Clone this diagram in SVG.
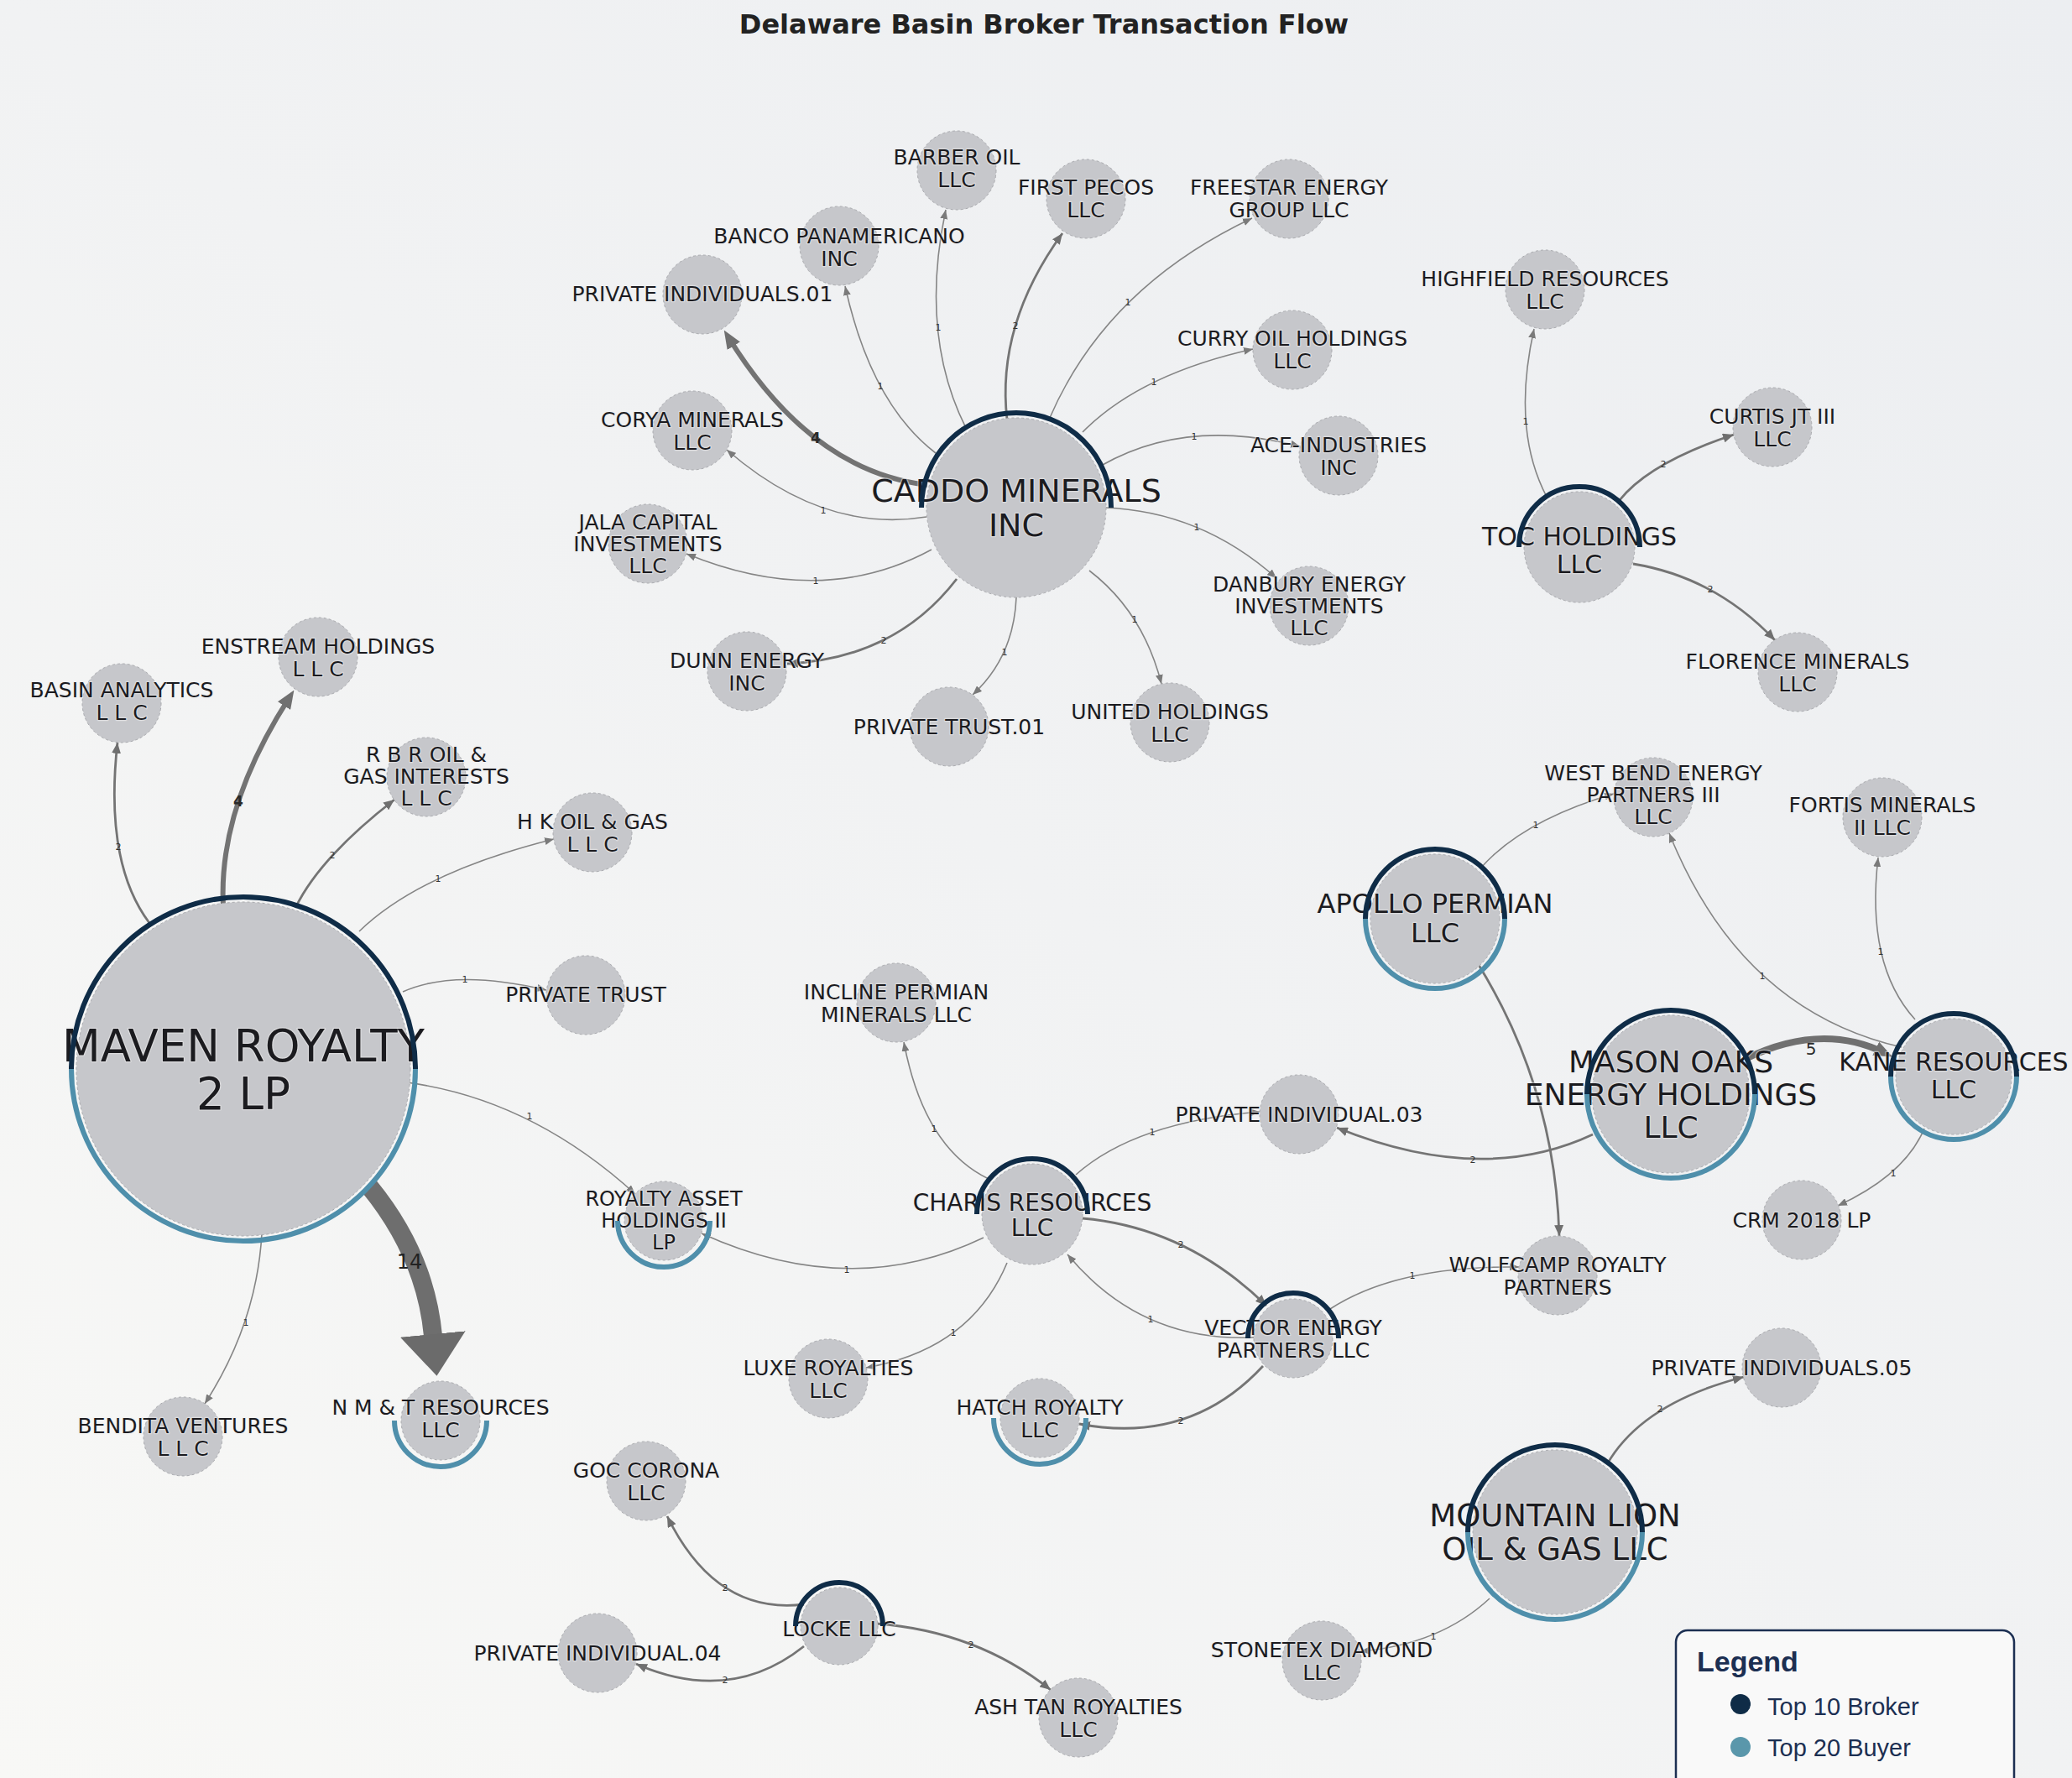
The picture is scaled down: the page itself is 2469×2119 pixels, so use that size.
<svg xmlns="http://www.w3.org/2000/svg" width="2469" height="2119" viewBox="0 0 2469 2119">
<defs>
<linearGradient id="bg" x1="1" y1="0" x2="0" y2="1">
<stop offset="0" stop-color="#eceef1"/>
<stop offset="0.5" stop-color="#f1f2f3"/>
<stop offset="1" stop-color="#f8f8f6"/>
</linearGradient>
<marker id="arrS" markerUnits="userSpaceOnUse" markerWidth="12" markerHeight="9" refX="11" refY="4.5" orient="auto"><path d="M0,0 L11,4.5 L0,9 z" fill="#7a7a7a"/></marker>
<marker id="arrS2" markerUnits="userSpaceOnUse" markerWidth="14" markerHeight="11" refX="13" refY="5.5" orient="auto"><path d="M0,0 L13,5.5 L0,11 z" fill="#6f6f6f"/></marker>
<marker id="arrM" markerUnits="userSpaceOnUse" markerWidth="22" markerHeight="18" refX="12" refY="9" orient="auto"><path d="M0,0 L22,9 L0,18 z" fill="#707070"/></marker>
<marker id="arrL" markerUnits="userSpaceOnUse" markerWidth="52" markerHeight="80" refX="2" refY="39" orient="auto"><path d="M0,0 L50,39 L0,78 z" fill="#6b6b6b"/></marker>
<style>
.edge{fill:none;stroke-linecap:butt}
.w1{stroke:#858585;stroke-width:1.6;marker-end:url(#arrS)}
.w2{stroke:#747474;stroke-width:2.8;marker-end:url(#arrS2)}
.w4{stroke:#737373;stroke-width:6;marker-end:url(#arrM)}
.w5{stroke:#707070;stroke-width:8;marker-end:url(#arrM)}
.w14{stroke:#6e6e6e;stroke-width:22;marker-end:url(#arrL)}
.el{font-family:"DejaVu Sans",sans-serif;font-size:11px;fill:#333;text-anchor:middle}
.el.m{font-size:17px;font-weight:bold;fill:#2a2a2a}
.el.l{font-size:20px;fill:#2a2a2a}
.el.xl{font-size:24px;fill:#222}
.body{fill:#c6c7cb;stroke:#a9aaae;stroke-width:1;stroke-dasharray:3 3}
.lbl{font-family:"DejaVu Sans",sans-serif;fill:#1b1b1f;text-anchor:middle;paint-order:stroke;stroke:#eeeeee;stroke-width:2.5;stroke-opacity:0.5;stroke-linejoin:round}
.s{font-size:25px}
.broker{fill:none;stroke:#0f2c47;stroke-width:6}
.buyer{fill:none;stroke:#4f8fab;stroke-width:6}
.leg{font-family:"Liberation Sans",Arial,sans-serif;fill:#1c2f52}
</style>
</defs>
<rect x="0" y="0" width="2469" height="2119" fill="url(#bg)"/>
<text x="1244" y="40" font-family="DejaVu Sans, sans-serif" font-size="32" font-weight="bold" fill="#222" text-anchor="middle">Delaware Basin Broker Transaction Flow</text>

<g id="edges">
<path class="edge w4" d="M1105,578 Q967,562 868,402"/>
<path class="edge w1" d="M1115,540 Q1038,481 1007,341"/>
<path class="edge w1" d="M1152,512 Q1095,400 1127,250"/>
<path class="edge w2" d="M1200,500 Q1187,387 1266,278"/>
<path class="edge w1" d="M1250,500 Q1317,343 1492,260"/>
<path class="edge w1" d="M1290,515 Q1358,446 1493,416"/>
<path class="edge w1" d="M1312,555 Q1413,497 1549,532"/>
<path class="edge w1" d="M1316,605 Q1431,609 1521,689"/>
<path class="edge w1" d="M1298,680 Q1362,729 1384,815"/>
<path class="edge w1" d="M1211,712 Q1208,783 1159,828"/>
<path class="edge w2" d="M1140,690 Q1067,785 938,791"/>
<path class="edge w1" d="M1110,655 Q979,726 818,660"/>
<path class="edge w1" d="M1104,616 Q981,636 866,536"/>
<path class="edge w1" d="M1843,592 Q1801,512 1828,392"/>
<path class="edge w2" d="M1930,596 Q1966,551 2066,518"/>
<path class="edge w2" d="M1946,672 Q2044,688 2115,763"/>
<path class="edge w2" d="M178,1100 Q124,1028 140,885"/>
<path class="edge w4" d="M266,1080 Q260,963 345,831"/>
<path class="edge w2" d="M352,1082 Q381,1022 470,953"/>
<path class="edge w1" d="M428,1110 Q500,1040 660,1000"/>
<path class="edge w1" d="M480,1182 Q542,1154 651,1180"/>
<path class="edge w1" d="M485,1290 Q633,1310 757,1423"/>
<path class="edge w14" d="M440,1414 Q507,1496 516,1592"/>
<path class="edge w1" d="M312,1470 Q306,1577 244,1673"/>
<path class="edge w1" d="M1178,1405 Q1101,1368 1077,1242"/>
<path class="edge w1" d="M1282,1400 Q1353,1337 1501,1325"/>
<path class="edge w1" d="M1172,1475 Q1014,1551 836,1470"/>
<path class="edge w1" d="M1200,1505 Q1157,1608 1032,1630"/>
<path class="edge w2" d="M1290,1452 Q1414,1463 1509,1556"/>
<path class="edge w1" d="M1494,1594 Q1359,1600 1272,1495"/>
<path class="edge w2" d="M1898,1352 Q1766,1414 1593,1344"/>
<path class="edge w5" d="M2080,1262 Q2170,1218 2246,1255"/>
<path class="edge w1" d="M2282,1215 Q2223,1150 2238,1022"/>
<path class="edge w1" d="M2266,1248 Q2074,1204 1989,993"/>
<path class="edge w1" d="M2293,1345 Q2270,1400 2190,1437"/>
<path class="edge w1" d="M1764,1035 Q1814,978 1923,946"/>
<path class="edge w2" d="M1762,1150 Q1853,1298 1858,1473"/>
<path class="edge w1" d="M1585,1560 Q1665,1508 1810,1510"/>
<path class="edge w2" d="M1505,1628 Q1418,1722 1286,1697"/>
<path class="edge w2" d="M1915,1745 Q1957,1672 2078,1641"/>
<path class="edge w1" d="M1775,1905 Q1716,1960 1621,1968"/>
<path class="edge w2" d="M958,1912 Q853,1925 795,1807"/>
<path class="edge w2" d="M958,1962 Q870,2032 758,1983"/>
<path class="edge w2" d="M1044,1935 Q1164,1944 1252,2014"/>
</g>

<g id="edge-labels">
<text class="el m" x="972" y="528">4</text>
<text class="el" x="1049" y="464">1</text>
<text class="el" x="1118" y="394">1</text>
<text class="el" x="1210" y="392">2</text>
<text class="el" x="1344" y="364">1</text>
<text class="el" x="1375" y="459">1</text>
<text class="el" x="1423" y="524">1</text>
<text class="el" x="1426" y="632">1</text>
<text class="el" x="1352" y="742">1</text>
<text class="el" x="1197" y="781">1</text>
<text class="el" x="1053" y="767">2</text>
<text class="el" x="972" y="696">1</text>
<text class="el" x="981" y="612">1</text>
<text class="el" x="1818" y="506">1</text>
<text class="el" x="1982" y="557">2</text>
<text class="el" x="2038" y="706">2</text>
<text class="el" x="141" y="1013">2</text>
<text class="el m" x="284" y="961">4</text>
<text class="el" x="396" y="1023">2</text>
<text class="el" x="522" y="1051">1</text>
<text class="el" x="554" y="1171">1</text>
<text class="el" x="631" y="1334">1</text>
<text class="el xl" x="488" y="1512">14</text>
<text class="el" x="293" y="1580">1</text>
<text class="el" x="1113" y="1349">1</text>
<text class="el" x="1373" y="1353">1</text>
<text class="el" x="1009" y="1517">1</text>
<text class="el" x="1136" y="1592">1</text>
<text class="el" x="1407" y="1487">2</text>
<text class="el" x="1371" y="1576">1</text>
<text class="el" x="1755" y="1386">2</text>
<text class="el l" x="2158" y="1257">5</text>
<text class="el" x="2241" y="1138">1</text>
<text class="el" x="2100" y="1167">1</text>
<text class="el" x="2256" y="1402">1</text>
<text class="el" x="1830" y="987">1</text>
<text class="el" x="1683" y="1524">1</text>
<text class="el" x="1407" y="1697">2</text>
<text class="el" x="1978" y="1683">2</text>
<text class="el" x="1708" y="1954">1</text>
<text class="el" x="864" y="1896">2</text>
<text class="el" x="864" y="2006">2</text>
<text class="el" x="1157" y="1964">2</text>
</g>

<g id="n-maven"><circle class="body" cx="290" cy="1274" r="199"/><text class="lbl" font-size="53"><tspan x="290" y="1265">MAVEN ROYALTY</tspan><tspan x="290" y="1322">2 LP</tspan></text><path class="broker" d="M85,1274 A205,205 0 0 1 495,1274"/><path class="buyer" d="M495,1274 A205,205 0 0 1 85,1274"/></g>
<g id="n-caddo"><circle class="body" cx="1211" cy="605" r="107"/><text class="lbl" font-size="38"><tspan x="1211" y="598">CADDO MINERALS</tspan><tspan x="1211" y="639">INC</tspan></text><path class="broker" d="M1098,605 A113,113 0 0 1 1324,605"/></g>
<g id="n-toc"><circle class="body" cx="1882" cy="652" r="66"/><text class="lbl" font-size="30"><tspan x="1882" y="650">TOC HOLDINGS</tspan><tspan x="1882" y="683">LLC</tspan></text><path class="broker" d="M1810,652 A72,72 0 0 1 1954,652"/></g>
<g id="n-apollo"><circle class="body" cx="1710" cy="1095" r="77"/><text class="lbl" font-size="32"><tspan x="1710" y="1088">APOLLO PERMIAN</tspan><tspan x="1710" y="1123">LLC</tspan></text><path class="broker" d="M1627,1095 A83,83 0 0 1 1793,1095"/><path class="buyer" d="M1793,1095 A83,83 0 0 1 1627,1095"/></g>
<g id="n-mason"><circle class="body" cx="1991" cy="1304" r="94"/><text class="lbl" font-size="36"><tspan x="1991" y="1278">MASON OAKS</tspan><tspan x="1991" y="1317">ENERGY HOLDINGS</tspan><tspan x="1991" y="1356">LLC</tspan></text><path class="broker" d="M1891,1304 A100,100 0 0 1 2091,1304"/><path class="buyer" d="M2091,1304 A100,100 0 0 1 1891,1304"/></g>
<g id="n-kane"><circle class="body" cx="2328" cy="1283" r="69"/><text class="lbl" font-size="30"><tspan x="2328" y="1276">KANE RESOURCES</tspan><tspan x="2328" y="1309">LLC</tspan></text><path class="broker" d="M2253,1283 A75,75 0 0 1 2403,1283"/><path class="buyer" d="M2403,1283 A75,75 0 0 1 2253,1283"/></g>
<g id="n-mountainlion"><circle class="body" cx="1853" cy="1826" r="98"/><text class="lbl" font-size="37"><tspan x="1853" y="1819">MOUNTAIN LION</tspan><tspan x="1853" y="1859">OIL &amp; GAS LLC</tspan></text><path class="broker" d="M1749,1826 A104,104 0 0 1 1957,1826"/><path class="buyer" d="M1957,1826 A104,104 0 0 1 1749,1826"/></g>
<g id="n-charis"><circle class="body" cx="1230" cy="1447" r="60"/><text class="lbl" font-size="28"><tspan x="1230" y="1443">CHARIS RESOURCES</tspan><tspan x="1230" y="1473">LLC</tspan></text><path class="broker" d="M1164,1447 A66,66 0 0 1 1296,1447"/></g>
<g id="n-vector"><circle class="body" cx="1541" cy="1595" r="47"/><text class="lbl" font-size="25"><tspan x="1541" y="1591">VECTOR ENERGY</tspan><tspan x="1541" y="1618">PARTNERS LLC</tspan></text><path class="broker" d="M1487,1595 A54,54 0 0 1 1595,1595"/></g>
<g id="n-locke"><circle class="body" cx="1000" cy="1938" r="46"/><text class="lbl s"><tspan x="1000" y="1950">LOCKE LLC</tspan></text><path class="broker" d="M948,1938 A52,52 0 0 1 1052,1938"/></g>
<g id="n-royalty"><circle class="body" cx="791" cy="1455" r="47"/><text class="lbl" font-size="24"><tspan x="791" y="1437">ROYALTY ASSET</tspan><tspan x="791" y="1463">HOLDINGS II</tspan><tspan x="791" y="1489">LP</tspan></text><path class="buyer" d="M846,1455 A55,55 0 0 1 736,1455"/></g>
<g id="n-nmt"><circle class="body" cx="525" cy="1693" r="47"/><text class="lbl s"><tspan x="525" y="1686">N M &amp; T RESOURCES</tspan><tspan x="525" y="1713">LLC</tspan></text><path class="buyer" d="M580,1693 A55,55 0 0 1 470,1693"/></g>
<g id="n-hatch"><circle class="body" cx="1239" cy="1690" r="47"/><text class="lbl s"><tspan x="1239" y="1686">HATCH ROYALTY</tspan><tspan x="1239" y="1713">LLC</tspan></text><path class="buyer" d="M1294,1690 A55,55 0 0 1 1184,1690"/></g>

<g id="n-barber"><circle class="body" cx="1140" cy="203" r="47"/><text class="lbl s"><tspan x="1140" y="196">BARBER OIL</tspan><tspan x="1140" y="223">LLC</tspan></text></g>
<g id="n-firstpecos"><circle class="body" cx="1294" cy="237" r="47"/><text class="lbl s"><tspan x="1294" y="232">FIRST PECOS</tspan><tspan x="1294" y="259">LLC</tspan></text></g>
<g id="n-freestar"><circle class="body" cx="1536" cy="237" r="47"/><text class="lbl s"><tspan x="1536" y="232">FREESTAR ENERGY</tspan><tspan x="1536" y="259">GROUP LLC</tspan></text></g>
<g id="n-banco"><circle class="body" cx="1000" cy="293" r="47"/><text class="lbl s"><tspan x="1000" y="290">BANCO PANAMERICANO</tspan><tspan x="1000" y="317">INC</tspan></text></g>
<g id="n-pi01"><circle class="body" cx="837" cy="351" r="47"/><text class="lbl s"><tspan x="837" y="359">PRIVATE INDIVIDUALS.01</tspan></text></g>
<g id="n-curry"><circle class="body" cx="1540" cy="417" r="47"/><text class="lbl s"><tspan x="1540" y="412">CURRY OIL HOLDINGS</tspan><tspan x="1540" y="439">LLC</tspan></text></g>
<g id="n-ace"><circle class="body" cx="1595" cy="543" r="47"/><text class="lbl s"><tspan x="1595" y="539">ACE-INDUSTRIES</tspan><tspan x="1595" y="566">INC</tspan></text></g>
<g id="n-corya"><circle class="body" cx="825" cy="513" r="47"/><text class="lbl s"><tspan x="825" y="509">CORYA MINERALS</tspan><tspan x="825" y="536">LLC</tspan></text></g>
<g id="n-jala"><circle class="body" cx="772" cy="648" r="47"/><text class="lbl s"><tspan x="772" y="631">JALA CAPITAL</tspan><tspan x="772" y="657">INVESTMENTS</tspan><tspan x="772" y="683">LLC</tspan></text></g>
<g id="n-danbury"><circle class="body" cx="1560" cy="722" r="47"/><text class="lbl s"><tspan x="1560" y="705">DANBURY ENERGY</tspan><tspan x="1560" y="731">INVESTMENTS</tspan><tspan x="1560" y="757">LLC</tspan></text></g>
<g id="n-dunn"><circle class="body" cx="890" cy="800" r="47"/><text class="lbl s"><tspan x="890" y="796">DUNN ENERGY</tspan><tspan x="890" y="823">INC</tspan></text></g>
<g id="n-pt01"><circle class="body" cx="1131" cy="866" r="47"/><text class="lbl s"><tspan x="1131" y="875">PRIVATE TRUST.01</tspan></text></g>
<g id="n-united"><circle class="body" cx="1394" cy="861" r="47"/><text class="lbl s"><tspan x="1394" y="857">UNITED HOLDINGS</tspan><tspan x="1394" y="884">LLC</tspan></text></g>
<g id="n-highfield"><circle class="body" cx="1841" cy="345" r="47"/><text class="lbl s"><tspan x="1841" y="341">HIGHFIELD RESOURCES</tspan><tspan x="1841" y="368">LLC</tspan></text></g>
<g id="n-curtis"><circle class="body" cx="2112" cy="509" r="47"/><text class="lbl s"><tspan x="2112" y="505">CURTIS JT III</tspan><tspan x="2112" y="532">LLC</tspan></text></g>
<g id="n-florence"><circle class="body" cx="2142" cy="801" r="47"/><text class="lbl s"><tspan x="2142" y="797">FLORENCE MINERALS</tspan><tspan x="2142" y="824">LLC</tspan></text></g>
<g id="n-basin"><circle class="body" cx="145" cy="838" r="47"/><text class="lbl s"><tspan x="145" y="831">BASIN ANALYTICS</tspan><tspan x="145" y="858">L L C</tspan></text></g>
<g id="n-enstream"><circle class="body" cx="379" cy="783" r="47"/><text class="lbl s"><tspan x="379" y="779">ENSTREAM HOLDINGS</tspan><tspan x="379" y="806">L L C</tspan></text></g>
<g id="n-rbr"><circle class="body" cx="508" cy="926" r="47"/><text class="lbl s"><tspan x="508" y="908">R B R OIL &amp;</tspan><tspan x="508" y="934">GAS INTERESTS</tspan><tspan x="508" y="960">L L C</tspan></text></g>
<g id="n-hk"><circle class="body" cx="706" cy="992" r="47"/><text class="lbl s"><tspan x="706" y="988">H K OIL &amp; GAS</tspan><tspan x="706" y="1015">L L C</tspan></text></g>
<g id="n-privatetrust"><circle class="body" cx="698" cy="1186" r="47"/><text class="lbl s"><tspan x="698" y="1194">PRIVATE TRUST</tspan></text></g>
<g id="n-bendita"><circle class="body" cx="218" cy="1712" r="47"/><text class="lbl s"><tspan x="218" y="1708">BENDITA VENTURES</tspan><tspan x="218" y="1735">L L C</tspan></text></g>
<g id="n-goc"><circle class="body" cx="770" cy="1765" r="47"/><text class="lbl s"><tspan x="770" y="1761">GOC CORONA</tspan><tspan x="770" y="1788">LLC</tspan></text></g>
<g id="n-pi04"><circle class="body" cx="712" cy="1970" r="47"/><text class="lbl s"><tspan x="712" y="1979">PRIVATE INDIVIDUAL.04</tspan></text></g>
<g id="n-ashtan"><circle class="body" cx="1285" cy="2047" r="47"/><text class="lbl s"><tspan x="1285" y="2043">ASH TAN ROYALTIES</tspan><tspan x="1285" y="2070">LLC</tspan></text></g>
<g id="n-incline"><circle class="body" cx="1068" cy="1195" r="47"/><text class="lbl s"><tspan x="1068" y="1191">INCLINE PERMIAN</tspan><tspan x="1068" y="1218">MINERALS LLC</tspan></text></g>
<g id="n-pi03"><circle class="body" cx="1548" cy="1328" r="47"/><text class="lbl s"><tspan x="1548" y="1337">PRIVATE INDIVIDUAL.03</tspan></text></g>
<g id="n-luxe"><circle class="body" cx="987" cy="1643" r="47"/><text class="lbl s"><tspan x="987" y="1639">LUXE ROYALTIES</tspan><tspan x="987" y="1666">LLC</tspan></text></g>
<g id="n-wolfcamp"><circle class="body" cx="1856" cy="1520" r="47"/><text class="lbl s"><tspan x="1856" y="1516">WOLFCAMP ROYALTY</tspan><tspan x="1856" y="1543">PARTNERS</tspan></text></g>
<g id="n-westbend"><circle class="body" cx="1970" cy="950" r="47"/><text class="lbl s"><tspan x="1970" y="930">WEST BEND ENERGY</tspan><tspan x="1970" y="956">PARTNERS III</tspan><tspan x="1970" y="982">LLC</tspan></text></g>
<g id="n-fortis"><circle class="body" cx="2243" cy="974" r="47"/><text class="lbl s"><tspan x="2243" y="968">FORTIS MINERALS</tspan><tspan x="2243" y="995">II LLC</tspan></text></g>
<g id="n-crm"><circle class="body" cx="2147" cy="1454" r="47"/><text class="lbl s"><tspan x="2147" y="1463">CRM 2018 LP</tspan></text></g>
<g id="n-pi05"><circle class="body" cx="2123" cy="1630" r="47"/><text class="lbl s"><tspan x="2123" y="1639">PRIVATE INDIVIDUALS.05</tspan></text></g>
<g id="n-stonetex"><circle class="body" cx="1575" cy="1979" r="47"/><text class="lbl s"><tspan x="1575" y="1975">STONETEX DIAMOND</tspan><tspan x="1575" y="2002">LLC</tspan></text></g>

<g id="legend">
<rect x="1997" y="1943" width="403" height="200" rx="14" fill="#f9f9f9" stroke="#1c2f52" stroke-width="2.5"/>
<text class="leg" x="2022" y="1992" font-size="34" font-weight="bold">Legend</text>
<circle cx="2074" cy="2031" r="12" fill="#0f2c47"/>
<text class="leg" x="2106" y="2044" font-size="29">Top 10 Broker</text>
<circle cx="2074" cy="2082" r="12" fill="#5a97ab"/>
<text class="leg" x="2106" y="2093" font-size="29">Top 20 Buyer</text>
</g>
</svg>
